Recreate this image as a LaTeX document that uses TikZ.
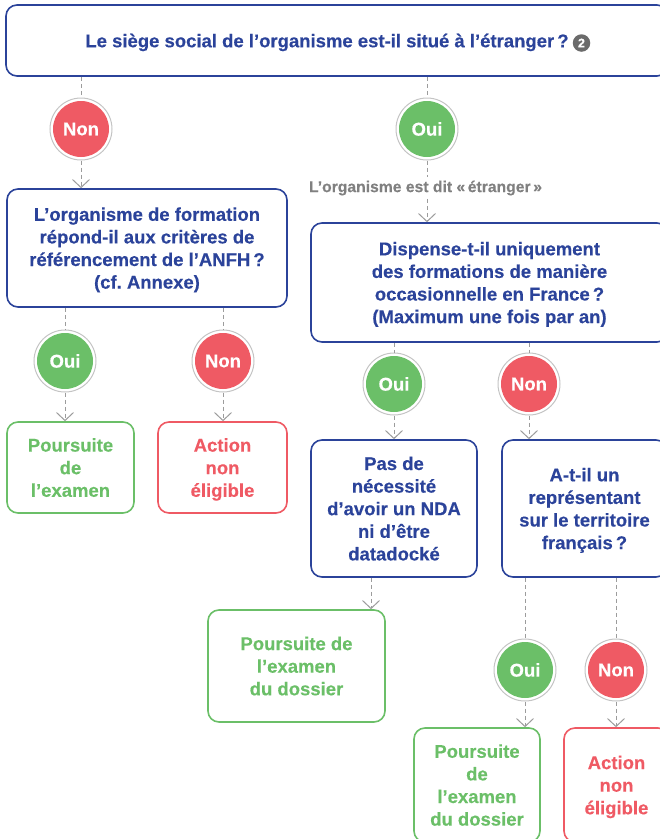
\documentclass[tikz,border=0pt]{standalone}
\usepackage{fontspec}
\setmainfont{Liberation Sans}[BoldFeatures={FakeBold=0.35}]
\usetikzlibrary{arrows.meta}
\definecolor{navy}{HTML}{2B439A}
\definecolor{okgreen}{HTML}{6BBF68}
\definecolor{kored}{HTML}{EF5A64}
\definecolor{ringgrey}{HTML}{C4C4C4}
\definecolor{linkgrey}{HTML}{9C9C9C}
\definecolor{labelgrey}{HTML}{808080}
\definecolor{notegrey}{HTML}{6B6B6B}
\frenchspacing
\begin{document}
\begin{tikzpicture}[x=1pt,y=-1pt,
  txt/.style={font=\fontsize{18.5}{22.6}\selectfont\bfseries, align=center},
  boxbase/.style={txt, text depth=-3.5pt, line width=1.6pt, rounded corners=11pt, inner sep=0pt},
  qbox/.style={boxbase, draw=navy, text=navy},
  okbox/.style={boxbase, draw=okgreen, text=okgreen},
  kobox/.style={boxbase, draw=kored, text=kored},
  yes/.style={circle, draw=ringgrey, line width=1pt, minimum size=62pt, inner sep=0pt, txt, text=white,
    path picture={\fill[okgreen] (path picture bounding box.center) circle (28pt);}},
  no/.style={circle, draw=ringgrey, line width=1pt, minimum size=62pt, inner sep=0pt, txt, text=white,
    path picture={\fill[kored] (path picture bounding box.center) circle (28pt);}},
  link/.style={draw=linkgrey, line width=1pt, dash pattern=on 4pt off 3pt},
  arr/.style={link, -{Straight Barb[length=8pt,width=17pt]}}
]
\useasboundingbox (0,0) rectangle (660,839);
\clip (0,0) rectangle (660,839);

% boxes
\node[qbox, minimum width=662pt, minimum height=71pt] (top) at (337,40.5)
  {Le siège social de l’organisme est-il situé à l’étranger\,?\hspace{20pt}};
\node[circle, fill=notegrey, text=white, minimum size=17.5pt, inner sep=0pt,
  font=\fontsize{12.5}{12.5}\selectfont\bfseries] (n2) at (581.5,43) {2};

\node[qbox, minimum width=280pt, minimum height=118pt] (q1) at (147,248)
  {L’organisme de formation\\répond-il aux critères de\\référencement de l’ANFH\,?\\(cf. Annexe)};
\node[qbox, minimum width=357pt, minimum height=119pt] (q2) at (489.5,282.5)
  {Dispense-t-il uniquement\\des formations de manière\\occasionnelle en France\,?\\(Maximum une fois par an)};

\node[font=\fontsize{15.7}{18}\selectfont\bfseries, text=labelgrey] (lab) at (425.5,188)
  {L’organisme est dit «\,étranger\,»};

\node[okbox, minimum width=127pt, minimum height=91pt] (ok1) at (70.5,467.5) {Poursuite\\de\\l’examen};
\node[kobox, minimum width=129pt, minimum height=91pt] (ko1) at (222.5,467.5) {Action\\non\\éligible};

\node[qbox, minimum width=166pt, minimum height=137pt] (r1) at (394,508.5)
  {Pas de\\nécessité\\d’avoir un NDA\\ni d’être\\datadocké};
\node[qbox, minimum width=165pt, minimum height=137pt] (q3) at (584.5,508.5)
  {A-t-il un\\représentant\\sur le territoire\\français\,?};

\node[okbox, minimum width=177pt, minimum height=112pt] (ok2) at (296.5,666)
  {Poursuite de\\l’examen\\du dossier};
\node[okbox, minimum width=126pt, minimum height=114pt] (ok3) at (477,785)
  {Poursuite\\de\\l’examen\\du dossier};
\node[kobox, minimum width=105pt, minimum height=114pt] (ko3) at (616.5,785)
  {Action\\non\\éligible};

% circles
\node[no]  (c0) at (81,129) {Non};
\node[yes] (c1) at (427,129) {Oui};
\node[yes] (c2) at (65,361) {Oui};
\node[no]  (c3) at (223,361) {Non};
\node[yes] (c4) at (394,384) {Oui};
\node[no]  (c5) at (529,384) {Non};
\node[yes] (c6) at (525,670) {Oui};
\node[no]  (c7) at (616,670) {Non};

% connectors
\draw[link] (top.south -| c0) -- (c0.north);
\draw[arr] (c0.south) -- (c0.south |- q1.north);
\draw[link] (top.south -| c1) -- (c1.north);
\draw[link] (c1.south) -- (c1.south |- lab.north);
\draw[arr] (lab.south -| c1) -- (c1 |- q2.north);

\draw[link] (q1.south -| c2) -- (c2.north);
\draw[link] (q1.south -| c3) -- (c3.north);
\draw[arr] (c2.south) -- (c2.south |- ok1.north);
\draw[arr] (c3.south) -- (c3.south |- ko1.north);

\draw[link] (q2.south -| c4) -- (c4.north);
\draw[link] (q2.south -| c5) -- (c5.north);
\draw[arr] (c4.south) -- (c4.south |- r1.north);
\draw[arr] (c5.south) -- (c5.south |- q3.north);

\draw[arr] ([xshift=-23pt]r1.south) -- ([xshift=-23pt]r1.south |- ok2.north);

\draw[link] (q3.south -| c6) -- (c6.north);
\draw[link] (q3.south -| c7) -- (c7.north);
\draw[arr] (c6.south) -- (c6.south |- ok3.north);
\draw[arr] (c7.south) -- (c7.south |- ko3.north);
\end{tikzpicture}
\end{document}
